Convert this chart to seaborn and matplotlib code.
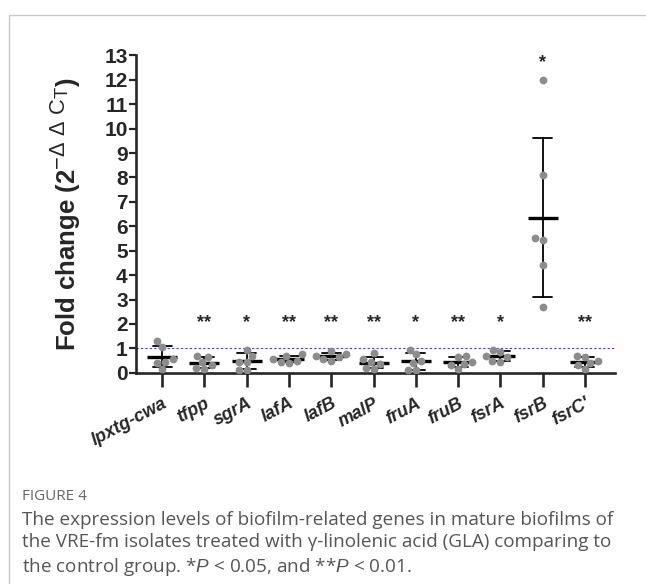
import matplotlib
matplotlib.use("Agg")
import matplotlib.pyplot as plt
import matplotlib._mathtext as mathtext_internals
import numpy as np
import pandas as pd
import seaborn as sns
from matplotlib.patches import Rectangle

# genes and fold change values (6 isolates each)
genes = ["lpxtg-cwa", "tfpp", "sgrA", "lafA", "lafB", "malP",
         "fruA", "fruB", "fsrA", "fsrB", "fsrC'"]
lpxtg_cwa = [1.3, 1.05, 0.55, 0.45, 0.4, 0.15]
tfpp = [0.7, 0.65, 0.45, 0.3, 0.2, 0.15]
sgrA = [0.95, 0.7, 0.45, 0.45, 0.12, 0.12]
lafA = [0.75, 0.7, 0.55, 0.5, 0.45, 0.4]
lafB = [0.9, 0.75, 0.7, 0.65, 0.55, 0.5]
malP = [0.8, 0.55, 0.45, 0.35, 0.2, 0.15]
fruA = [0.95, 0.75, 0.5, 0.4, 0.12, 0.1]
fruB = [0.68, 0.65, 0.45, 0.35, 0.3, 0.15]
fsrA = [0.95, 0.85, 0.7, 0.65, 0.5, 0.45]
fsrB = [12.0, 8.1, 5.5, 5.45, 4.4, 2.7]
fsrC = [0.7, 0.65, 0.5, 0.4, 0.3, 0.15]
significance = ["", "**", "*", "**", "**", "**", "*", "**", "*", "*", "**"]

values = [lpxtg_cwa, tfpp, sgrA, lafA, lafB, malP, fruA, fruB, fsrA, fsrB, fsrC]
df = pd.DataFrame({
    "gene": np.repeat(genes, [len(v) for v in values]),
    "fold": np.concatenate(values),
})

sns.set_style("ticks")
plt.rcParams["font.family"] = ["Liberation Sans", "DejaVu Sans"]
plt.rcParams["mathtext.fontset"] = "custom"
plt.rcParams["mathtext.rm"] = "Liberation Sans"
plt.rcParams["mathtext.it"] = "Liberation Sans:italic"
plt.rcParams["mathtext.bf"] = "Liberation Sans:bold"
# superscript in the y label is nearly full size in the original
mathtext_internals.SHRINK_FACTOR = 0.85

fig = plt.figure(figsize=(6.46, 5.84), dpi=100)
ax = fig.add_axes([0.2105, 0.3618, 0.7415, 0.5432])

sns.swarmplot(data=df, x="gene", y="fold", order=genes, color="#8c8c8c",
              size=5.6, ax=ax)
sns.pointplot(data=df, x="gene", y="fold", order=genes, errorbar="sd",
              color="black", marker="_", markersize=21, markeredgewidth=2.4,
              linestyle="none", capsize=0.45, err_kws={"linewidth": 1.3}, ax=ax)

ax.axhline(1, color="#3c3cdc", linestyle=(0, (2, 2)), linewidth=0.8, zorder=0)

for i, g in enumerate(genes):
    if significance[i]:
        y = max(max(values[i]) + 0.7, 2.05)
        ax.text(i, y, significance[i], ha="center", va="center",
                fontsize=13, fontweight="bold")

ax.set_xlim(-0.62, 10.71)
ax.set_ylim(0, 13)
ax.set_yticks(range(0, 14))
ax.set_xlabel("")
ax.set_ylabel(r"Fold change (2$^{-\Delta\ \Delta\ \mathrm{C}_{\mathrm{T}}}$)",
              fontsize=18.5, fontweight="bold", labelpad=15)
sns.despine(ax=ax)
for s in ["left", "bottom"]:
    ax.spines[s].set_linewidth(1.9)
ax.tick_params(axis="y", length=5, width=1.6, labelsize=15, pad=1)
ax.tick_params(axis="x", length=10, width=1.9, pad=6)
for lab in ax.get_yticklabels():
    lab.set_fontweight("bold")
ax.set_xticks(range(len(genes)))
ax.set_xticklabels(genes, rotation=28, ha="right", rotation_mode="anchor",
                   fontsize=13, fontweight="bold", fontstyle="italic")

# light frame around the figure panel
fig.patches.append(Rectangle((9 / 646, -0.05), 1.1, 1 - 15 / 584 + 0.05,
                             transform=fig.transFigure, fill=False,
                             edgecolor="#c8c8c8", linewidth=1))

fig.text(22 / 646, 1 - 497 / 584, "FIGURE 4", fontsize=11, color="#666666",
         family=["Open Sans", "DejaVu Sans"], va="center")
caption = ("The expression levels of biofilm-related genes in mature biofilms of\n"
           "the VRE-fm isolates treated with \u03b3-linolenic acid (GLA) comparing to\n"
           "the control group. *$P$ < 0.05, and **$P$ < 0.01.")
fig.text(22 / 646, 1 - 511 / 584, caption, fontsize=13.6, color="#555555",
         family=["Open Sans", "DejaVu Sans"], va="top", linespacing=1.3)

fig.savefig("out.png", dpi=100)
